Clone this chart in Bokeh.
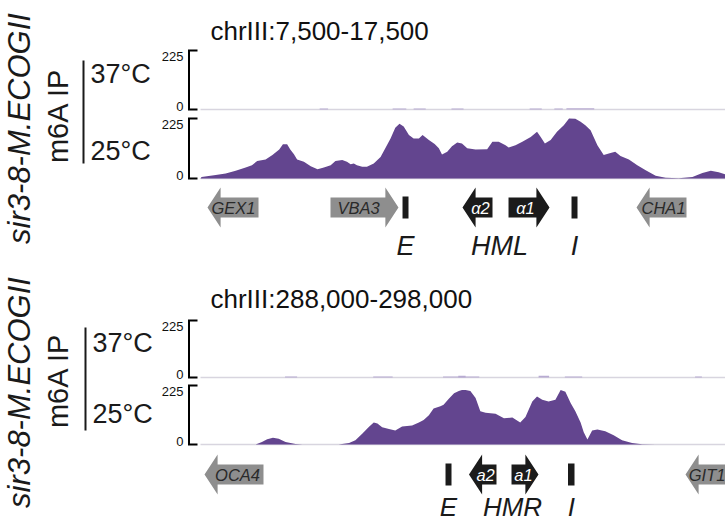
import numpy as np
from bokeh.plotting import figure
from bokeh.layouts import column, row
from bokeh.models import Range1d
from bokeh.core.properties import value
from bokeh.embed import file_html
from bokeh.resources import INLINE

FONT = "Liberation Sans"
PURPLE = "#63458f"
LAVENDER = "#b8abd2"
BASE = "#d8d5df"
GRAY = "#8e8e8e"
BLACK = "#1b1b1b"

# ---------------- data: panel 1 (HML) ----------------
p1_region = "chrIII:7,500-17,500"
p1_start_kb, p1_end_kb = 7.5, 17.5
p1_kb = [7.50, 7.52, 7.79, 7.98, 8.17, 8.36, 8.48, 8.58, 8.74, 8.87, 9.00, 9.07, 9.15, 9.21, 9.28,
         9.34, 9.47, 9.60, 9.73, 9.85, 9.98, 10.07, 10.20, 10.29, 10.36, 10.42, 10.48, 10.58, 10.67, 10.80,
         10.93, 11.02, 11.12, 11.21, 11.29, 11.37, 11.47, 11.56, 11.66, 11.73, 11.85, 11.96, 12.04, 12.10, 12.20,
         12.29, 12.39, 12.48, 12.58, 12.74, 12.96, 13.06, 13.18, 13.31, 13.37, 13.50, 13.63, 13.79, 13.91, 13.98,
         14.06, 14.17, 14.29, 14.42, 14.52, 14.64, 14.74, 14.83, 14.93, 15.06, 15.18, 15.31, 15.40, 15.50, 15.66,
         15.82, 15.98, 16.17, 16.36, 16.61, 16.87, 17.06, 17.22, 17.37, 17.50]
p1_25C = [0, 6, 13, 19, 29, 41, 50, 66, 71, 88, 109, 128, 128, 109, 91,
          71, 63, 46, 35, 41, 50, 66, 69, 63, 53, 56, 50, 44, 44, 56,
          81, 113, 150, 190, 205, 195, 163, 150, 150, 163, 144, 129, 113, 90, 100,
          121, 135, 131, 113, 109, 110, 138, 138, 125, 116, 125, 138, 156, 175, 156,
          131, 144, 175, 200, 225, 224, 213, 200, 181, 125, 88, 96, 100, 84, 71,
          50, 31, 10, 3, 1, 6, 21, 29, 23, 15]
p1_37C_start = [9.77, 11.16, 11.56, 12.28, 13.77, 14.24, 14.47]
p1_37C_end = [9.93, 11.42, 11.79, 12.51, 14.00, 14.40, 15.00]
p1_37C_val = [4, 4, 4, 4, 4, 4, 5]

p1_gene_names = ["GEX1", "VBA3", "α2", "α1", "CHA1"]
p1_gene_left = [7.633, 9.976, 12.490, 13.367, 15.805]
p1_gene_right = [8.605, 11.271, 13.062, 14.148, 16.757]
p1_gene_strand = ["-", "+", "-", "+", "-"]
p1_gene_silent = [False, False, True, True, False]
p1_gene_text_x = [8.129, 10.51, 12.833, 13.69, 16.32]
p1_site_left = [11.348, 14.567]
p1_site_right = [11.462, 14.681]
p1_label_text = ["E", "HML", "I"]
p1_label_x = [11.405, 13.195, 14.624]

# ---------------- data: panel 2 (HMR) ----------------
p2_region = "chrIII:288,000-298,000"
p2_start_kb, p2_end_kb = 288.0, 298.0
p2_kb = [288.00, 289.05, 289.17, 289.27, 289.38, 289.49, 289.62, 289.81, 289.94, 290.63,
         290.83, 290.95, 291.08, 291.21, 291.30, 291.37, 291.46, 291.59, 291.71, 291.84,
         292.03, 292.16, 292.25, 292.35, 292.44, 292.57, 292.63, 292.73, 292.83, 292.92,
         292.98, 293.05, 293.14, 293.24, 293.33, 293.43, 293.62, 293.78, 293.94, 294.09,
         294.19, 294.32, 294.41, 294.51, 294.63, 294.76, 294.86, 294.95, 295.05, 295.14,
         295.24, 295.30, 295.37, 295.46, 295.56, 295.71, 295.87, 296.03, 296.22, 296.41,
         296.67, 298.00]
p2_25C = [0, 0, 10, 20, 26, 22, 10, 2, 0, 0,
          6, 16, 41, 68, 84, 80, 66, 59, 53, 69,
          72, 84, 93, 112, 137, 146, 152, 174, 195, 204,
          208, 208, 204, 177, 127, 121, 117, 100, 103, 84,
          105, 164, 183, 171, 164, 171, 208, 201, 158, 127,
          84, 47, 19, 53, 57, 51, 35, 16, 6, 1,
          0, 0]
p2_37C_start = [289.61, 291.29, 292.62, 292.91, 294.44, 294.94, 297.42]
p2_37C_end = [289.84, 291.66, 293.31, 293.05, 294.64, 295.27, 297.55]
p2_37C_val = [4, 4, 4, 7, 7, 4, 4]

p2_gene_names = ["OCA4", "a2", "a1", "GIT1"]
p2_gene_left = [288.076, 293.114, 293.924, 297.238]
p2_gene_right = [289.200, 293.638, 294.438, 298.600]
p2_gene_strand = ["-", "-", "+", "-"]
p2_gene_silent = [False, True, True, False]
p2_gene_text_x = [288.705, 293.43, 294.15, 297.65]
p2_site_left = [292.667, 295.000]
p2_site_right = [292.781, 295.124]
p2_label_text = ["E", "HMR", "I"]
p2_label_x = [292.724, 293.943, 295.062]

Y_MAX = 225
Y_TICK_LABELS = ["0", "225"]

# ---------------- layout constants (pixels) ----------------
PX_PER_KB = 52.5
LEFT_W = 198            # label column incl. the 0-225 scale brackets
RIGHT_W = 725 - LEFT_W
BRACKET_X = 188.5
TICK_END = 197
DATA_INSET = 2          # data start lies 2 px right of the label column
HEAD_KB = 0.25
BODY_H = 10
HEAD_H = 20
SITE_H = 11


def x_range_for(start_kb):
    x0 = start_kb - DATA_INSET / PX_PER_KB
    return Range1d(x0, x0 + RIGHT_W / PX_PER_KB)


def base_fig(width, height, xr, yr, top=0):
    p = figure(width=width, height=height, x_range=xr, y_range=yr,
               output_backend="svg", toolbar_location=None,
               x_axis_location=None, y_axis_location=None,
               min_border_left=0, min_border_right=0,
               min_border_top=top, min_border_bottom=0)
    p.outline_line_color = None
    p.grid.visible = False
    p.background_fill_color = "white"
    p.border_fill_color = "white"
    return p


def track_fig(height, top_border, px_top, px_zero, start_kb, title=None, standoff=4):
    frame_h = height - top_border
    upp = Y_MAX / (px_zero - px_top)
    y_end = Y_MAX + px_top * upp
    y_start = -(frame_h - px_zero) * upp
    p = base_fig(RIGHT_W, height, x_range_for(start_kb), Range1d(y_start, y_end), top=top_border)
    if title:
        p.title.text = title
        p.title.text_font = FONT
        p.title.text_font_size = "26px"
        p.title.text_font_style = "normal"
        p.title.text_color = "#111111"
        p.title.align = "left"
        p.title.offset = 12
        p.title.standoff = standoff
    return p


def arrow_poly(l, r, strand):
    if strand == "+":
        b = r - HEAD_KB
        return [l, b, b, r, b, b, l], [BODY_H, BODY_H, HEAD_H, 0, -HEAD_H, -BODY_H, -BODY_H]
    b = l + HEAD_KB
    return [r, b, b, l, b, b, r], [BODY_H, BODY_H, HEAD_H, 0, -HEAD_H, -BODY_H, -BODY_H]


def build_panel(region, start_kb, end_kb, kb, v25, s37, e37, v37,
                gnames, gl, gr, gs, gsil, gtx, sl, sr, ltxt, lx,
                lay):
    # left labels
    H = lay["H"]
    L = base_fig(LEFT_W, H, Range1d(0, LEFT_W), Range1d(H, 0))
    L.text(x=[lay["sir_x"]], y=[lay["sir_y"]], text=["sir3-8-M.ECOGII"], angle=np.pi / 2,
           text_align="center", text_baseline="middle", text_font=value(FONT),
           text_font_style="italic", text_font_size="31px", text_color="#1a1a1a")
    L.text(x=[lay["ip_x"]], y=[lay["ip_y"]], text=["m6A IP"], angle=np.pi / 2,
           text_align="center", text_baseline="middle", text_font=value(FONT),
           text_font_size="29px", text_color="#1a1a1a")
    L.segment(x0=[lay["vl_x"]], y0=[lay["vl_y0"]], x1=[lay["vl_x"]], y1=[lay["vl_y1"]],
              line_color="#1a1a1a", line_width=2)
    L.text(x=[lay["t_x"], lay["t_x"]], y=[lay["t37_y"], lay["t25_y"]], text=["37°C", "25°C"],
           text_align="left", text_baseline="middle", text_font=value(FONT),
           text_font_size="27px", text_color="#1a1a1a")
    # 0-225 scale brackets of both tracks
    a_top = lay["a_top"] + lay["a_px_top"]
    a_zero = lay["a_top"] + lay["a_px_zero"]
    b_top = lay["a_h"] + lay["b_px_top"]
    b_zero = lay["a_h"] + lay["b_px_zero"]
    tops = [a_top, b_top]
    zeros = [a_zero, b_zero]
    L.segment(x0=[BRACKET_X] * 2, y0=tops, x1=[BRACKET_X] * 2, y1=zeros,
              line_color="black", line_width=2)
    L.segment(x0=[BRACKET_X - 1] * 4, y0=tops + zeros, x1=[TICK_END] * 4, y1=tops + zeros,
              line_color="black", line_width=2)
    tick_y = [a_zero - 3.5, a_top + 5.5, b_zero - 3.5, b_top + 5.5]
    L.text(x=[183] * 4, y=tick_y, text=Y_TICK_LABELS * 2, text_align="right",
           text_baseline="middle", text_font=value(FONT), text_font_size="13px",
           text_color="#111111")

    # 37 C track
    fa = track_fig(lay["a_h"], lay["a_top"], lay["a_px_top"], lay["a_px_zero"], start_kb,
                   title=region, standoff=lay["standoff"])
    fa.line(x=[start_kb, end_kb], y=[0, 0], line_color=BASE, line_width=1.5)
    fa.quad(left=s37, right=e37, bottom=0, top=v37, fill_color=LAVENDER, line_color=None)

    # 25 C track
    fb = track_fig(lay["b_h"], 0, lay["b_px_top"], lay["b_px_zero"], start_kb)
    fb.line(x=[start_kb, end_kb], y=[0, 0], line_color=BASE, line_width=1.5)
    fb.varea(x=kb, y1=0, y2=v25, fill_color=PURPLE)

    # genes
    gh = lay["g_h"]
    gc = lay["g_center"]
    fg = base_fig(RIGHT_W, gh, x_range_for(start_kb), Range1d(-(gh - gc), gc))
    xs, ys, cols = [], [], []
    for l, r, s, sil in zip(gl, gr, gs, gsil):
        px, py = arrow_poly(l, r, s)
        xs.append(px)
        ys.append(py)
        cols.append(BLACK if sil else GRAY)
    fg.patches(xs=xs, ys=ys, fill_color=cols, line_color=None)
    fg.quad(left=sl, right=sr, bottom=-SITE_H, top=SITE_H, fill_color=BLACK, line_color=None)
    tcols = ["white" if sil else "#2a2a2a" for sil in gsil]
    fg.text(x=gtx, y=[0] * len(gtx), text=gnames, text_align="center", text_baseline="middle",
            text_font=value(FONT), text_font_style="italic", text_font_size="16.5px",
            text_color=tcols)
    fg.text(x=lx, y=[-lay["lab_off"]] * len(lx), text=ltxt, text_align="center",
            text_baseline="middle", text_font=value(FONT), text_font_style="italic",
            text_font_size=lay["lab_fs"], text_color="#1a1a1a")

    return row(L, column(fa, fb, fg, spacing=0), spacing=0)


lay1 = dict(H=270, sir_x=19, sir_y=128, ip_x=57, ip_y=115, vl_x=83, vl_y0=60, vl_y1=163,
            t_x=90, t37_y=73, t25_y=150,
            a_h=114, a_top=48, a_px_top=2, a_px_zero=61, standoff=6,
            b_h=67, b_px_top=4, b_px_zero=64,
            g_h=89, g_center=26, lab_off=38, lab_fs="27px")
lay2 = dict(H=250, sir_x=19, sir_y=122, ip_x=57, ip_y=110, vl_x=85, vl_y0=57, vl_y1=160,
            t_x=92, t37_y=72, t25_y=143,
            a_h=112, a_top=48, a_px_top=2, a_px_zero=59, standoff=9,
            b_h=67, b_px_top=3, b_px_zero=62,
            g_h=71, g_center=25, lab_off=32, lab_fs="26px")

panel1 = build_panel(p1_region, p1_start_kb, p1_end_kb, p1_kb, p1_25C, p1_37C_start, p1_37C_end, p1_37C_val,
                     p1_gene_names, p1_gene_left, p1_gene_right, p1_gene_strand, p1_gene_silent,
                     p1_gene_text_x, p1_site_left, p1_site_right, p1_label_text, p1_label_x, lay1)
panel2 = build_panel(p2_region, p2_start_kb, p2_end_kb, p2_kb, p2_25C, p2_37C_start, p2_37C_end, p2_37C_val,
                     p2_gene_names, p2_gene_left, p2_gene_right, p2_gene_strand, p2_gene_silent,
                     p2_gene_text_x, p2_site_left, p2_site_right, p2_label_text, p2_label_x, lay2)

p = column(panel1, panel2, spacing=0)
open("out.html", "w").write(file_html(p, INLINE))
